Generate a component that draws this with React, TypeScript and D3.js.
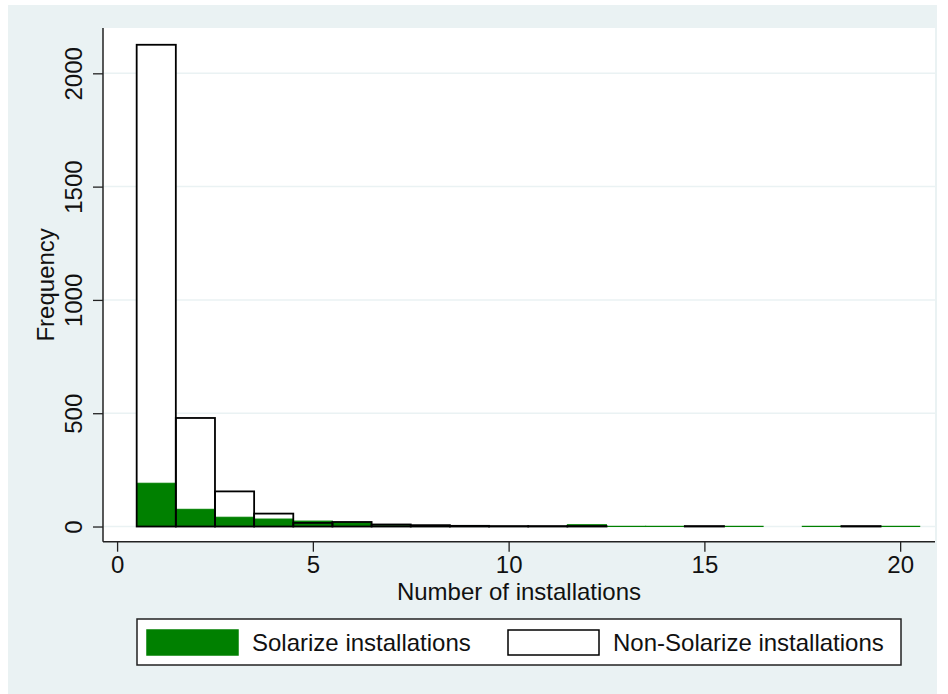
import React, { useEffect, useRef } from "react";
import * as d3 from "d3";

// histogram bins (number of installations)
const bins = [1, 2, 3, 4, 5, 6, 7, 8, 9, 10, 11, 12, 13, 14, 15, 16, 17, 18, 19, 20];
const nonSolarize = [2126, 479, 155, 57, 16, 20, 9, 6, 3, 2, 2, 2, 0, 0, 2, 0, 0, 0, 2, 0];
const solarize = [191, 76, 41, 33, 24, 17, 3, 1, 0, 0, 0, 8, 1, 1, 0, 1, 0, 1, 0, 1];

const yTicks = [0, 500, 1000, 1500, 2000];
const xTicks = [0, 5, 10, 15, 20];
const legendLabels = ["Solarize installations", "Non-Solarize installations"];

const GREEN = "#008000";
const BG = "#eaf2f3";
const FONT = "'Liberation Sans', Arial, sans-serif";
const FS = "24px";

export default function App() {
    const ref = useRef(null);
    const width = 948;
    const height = 694;

    useEffect(() => {
        const svg = d3.select(ref.current);
        svg.selectAll("*").remove();

        const plot = { left: 103, right: 935, top: 28, bottom: 541.7 };

        // graph region background
        svg.append("rect")
            .attr("x", 8).attr("y", 5)
            .attr("width", 929).attr("height", height - 5)
            .attr("fill", BG);

        svg.append("rect")
            .attr("x", plot.left).attr("y", plot.top)
            .attr("width", plot.right - plot.left)
            .attr("height", plot.bottom - plot.top)
            .attr("fill", "white");

        const x = d3.scaleLinear()
            .domain([-0.36, 20.89])
            .range([plot.left, plot.right]);

        const y = d3.scaleLinear()
            .domain([-67, 2200])
            .range([plot.bottom, plot.top]);

        // gridlines
        svg.append("g")
            .selectAll("line")
            .data(yTicks)
            .enter()
            .append("line")
            .attr("x1", plot.left).attr("x2", plot.right)
            .attr("y1", d => y(d)).attr("y2", d => y(d))
            .attr("stroke", BG)
            .attr("stroke-width", 1.5);

        const data = bins.map((b, i) => ({ bin: b, non: nonSolarize[i], sol: solarize[i] }));

        // white fill of non-solarize bars
        svg.append("g")
            .selectAll("rect")
            .data(data.filter(d => d.non > 0))
            .enter()
            .append("rect")
            .attr("x", d => x(d.bin - 0.5))
            .attr("y", d => y(d.non))
            .attr("width", d => x(d.bin + 0.5) - x(d.bin - 0.5))
            .attr("height", d => y(0) - y(d.non))
            .attr("fill", "white");

        // solarize bars
        svg.append("g")
            .selectAll("rect")
            .data(data.filter(d => d.sol > 0))
            .enter()
            .append("rect")
            .attr("x", d => x(d.bin - 0.5))
            .attr("y", d => y(d.sol))
            .attr("width", d => x(d.bin + 0.5) - x(d.bin - 0.5))
            .attr("height", d => y(0) - y(d.sol))
            .attr("fill", GREEN)
            .attr("stroke", GREEN)
            .attr("stroke-width", 1);

        // outlines of non-solarize bars
        svg.append("g")
            .selectAll("rect")
            .data(data.filter(d => d.non > 0))
            .enter()
            .append("rect")
            .attr("x", d => x(d.bin - 0.5))
            .attr("y", d => y(d.non))
            .attr("width", d => x(d.bin + 0.5) - x(d.bin - 0.5))
            .attr("height", d => y(0) - y(d.non))
            .attr("fill", "none")
            .attr("stroke", "black")
            .attr("stroke-width", 1.8);

        // y axis
        const yAxis = svg.append("g")
            .attr("transform", `translate(${plot.left}, 0)`)
            .call(d3.axisLeft(y).tickValues(yTicks).tickFormat(d3.format("d")).tickSize(10).tickSizeOuter(0));
        yAxis.select(".domain")
            .attr("d", `M0,${plot.top}V${plot.bottom}`)
            .attr("stroke", "#222").attr("stroke-width", 1.5);
        yAxis.selectAll(".tick line").attr("stroke", "#222").attr("stroke-width", 1.3);
        yAxis.selectAll(".tick text")
            .attr("x", 0).attr("y", 0).attr("dy", null)
            .attr("transform", "translate(-21.3,0) rotate(-90)")
            .style("text-anchor", "middle")
            .style("font-family", FONT)
            .style("font-size", FS)
            .attr("fill", "#111");

        // x axis
        const xAxis = svg.append("g")
            .attr("transform", `translate(0, ${plot.bottom})`)
            .call(d3.axisBottom(x).tickValues(xTicks).tickFormat(d3.format("d")).tickSize(10).tickSizeOuter(0));
        xAxis.select(".domain")
            .attr("d", `M${plot.left},0H${plot.right}`)
            .attr("stroke", "#222").attr("stroke-width", 1.5);
        xAxis.selectAll(".tick line").attr("stroke", "#222").attr("stroke-width", 1.3);
        xAxis.selectAll(".tick text")
            .attr("y", 31).attr("dy", null)
            .style("font-family", FONT)
            .style("font-size", FS)
            .attr("fill", "#111");

        // axis titles
        svg.append("text")
            .text("Number of installations")
            .attr("x", (plot.left + plot.right) / 2)
            .attr("y", 600)
            .attr("text-anchor", "middle")
            .attr("font-family", FONT)
            .attr("font-size", FS)
            .attr("fill", "#111");

        svg.append("text")
            .text("Frequency")
            .attr("transform", `translate(54, ${(plot.top + plot.bottom) / 2}) rotate(-90)`)
            .attr("text-anchor", "middle")
            .attr("font-family", FONT)
            .attr("font-size", FS)
            .attr("fill", "#111");

        // legend
        const legend = svg.append("g");
        legend.append("rect")
            .attr("x", 137).attr("y", 619)
            .attr("width", 764).attr("height", 46)
            .attr("fill", "white")
            .attr("stroke", "#222")
            .attr("stroke-width", 1.5);

        const items = [
            { label: legendLabels[0], x: 147, fill: GREEN, stroke: GREEN },
            { label: legendLabels[1], x: 508, fill: "white", stroke: "black" },
        ];
        const li = legend.selectAll(".item")
            .data(items)
            .enter()
            .append("g");
        li.append("rect")
            .attr("x", d => d.x).attr("y", 630)
            .attr("width", 91).attr("height", 25)
            .attr("fill", d => d.fill)
            .attr("stroke", d => d.stroke)
            .attr("stroke-width", 1.5);
        li.append("text")
            .text(d => d.label)
            .attr("x", d => d.x + 105)
            .attr("y", 651)
            .attr("font-family", FONT)
            .attr("font-size", FS)
            .attr("fill", "#111");
    }, []);

    return (
        <svg
            ref={ref}
            width={width}
            height={height}
            style={{ position: "absolute", left: 0, top: 0, background: "white" }}
        />
    );
}
